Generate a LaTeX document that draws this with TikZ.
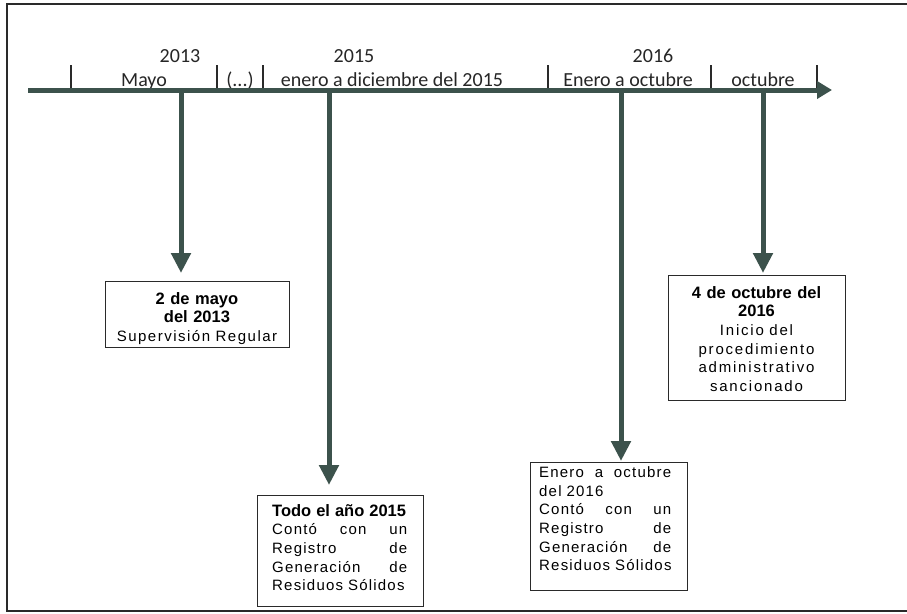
\documentclass[tikz,border=0pt]{standalone}
\usepackage{fontspec}
\setmainfont{Liberation Sans}
\newfontfamily\tlfont{Carlito}
\newfontfamily\bxreg[LetterSpace=8]{Liberation Sans}
\newfontfamily\bxone[LetterSpace=10]{Liberation Sans}
\newfontfamily\bxfour[LetterSpace=12]{Liberation Sans}
\usetikzlibrary{arrows.meta}
\definecolor{tlc}{HTML}{3C524C}
\definecolor{framec}{HTML}{2A2A2A}
\newcommand\jl[1]{\leavevmode\hbox to\hsize{#1}}
\tikzset{
  tline/.style={draw=tlc, line width=5pt, -{Triangle[width=17pt,length=15pt]}},
  tick/.style={draw=framec, line width=1.3pt},
  varrow/.style={draw=tlc, line width=5pt, -{Triangle[width=19pt,length=20pt]}},
  evbox/.style={draw=framec, line width=1.4pt, fill=white, inner sep=0pt},
  tllabel/.style={inner sep=0pt, anchor=base, font=\tlfont\fontsize{20}{22}\selectfont, text=black!85},
  boxtext/.style={inner sep=0pt, text=black},
}
\begin{document}
\begin{tikzpicture}[x=1pt,y=-1pt]
\useasboundingbox (0,0) rectangle (907,613);
\fill[white] (0,0) rectangle (907,613);
\draw[framec, line width=1.6pt] (7,4) rectangle (925,611);

% timeline labels
\node[tllabel] (y2013) at (180,62) {2013};
\node[tllabel] (y2015) at (354,62) {2015};
\node[tllabel] (y2016) at (653,62) {2016};
\node[tllabel] (mmayo) at (144,86) {Mayo};
\node[tllabel] (mdots) at (240,86) {(...)};
\node[tllabel] (m2015) at (392,86) {enero a diciembre del 2015};
\node[tllabel] (m2016) at (628,86) {Enero a octubre};
\node[tllabel] (moct) at (763,86) {octubre};

% ticks
\foreach \x in {71,217,263,548,711,817} \draw[tick] (\x,65) -- (\x,88);

% boxes
\node[evbox, minimum width=184pt, minimum height=66pt, anchor=north west] (b1) at (105,281) {};
\node[evbox, minimum width=166pt, minimum height=111pt, anchor=north west] (b2) at (257,495) {};
\node[evbox, minimum width=157pt, minimum height=128pt, anchor=north west] (b3) at (530,462) {};
\node[evbox, minimum width=177pt, minimum height=125pt, anchor=north west] (b4) at (668,275) {};

% arrow roots on the timeline
\coordinate (a1) at (181,90);
\coordinate (a2) at (329,90);
\coordinate (a3) at (621,90);
\coordinate (a4) at (763,90);
\draw[varrow, shorten >=8pt] (a1) -- (a1 |- b1.north);
\draw[varrow, shorten >=10pt] (a2) -- (a2 |- b2.north);
\draw[varrow, shorten >=1pt] (a3) -- (a3 |- b3.north);
\draw[varrow, shorten >=2pt] (a4) -- (a4 |- b4.north);

% timeline
\coordinate (tl0) at (28,90);
\coordinate (tl1) at (832,90);
\draw[tline] (tl0) -- (tl1);

% box texts
\node[boxtext, anchor=north, text width=178pt, align=center,
  font=\normalfont\bfseries\fontsize{16.5}{18.6}\selectfont] (t1) at (197,291)
  {\rule{0pt}{13pt}2 de mayo\\ del 2013\\
   {\bxone\mdseries\fontsize{15}{18.6}\selectfont Supervisión Regular}};

\node[boxtext, anchor=north west, text width=135pt, align=left,
  font=\bxreg\fontsize{15}{18.6}\selectfont] (t2) at (272,503)
  {{\normalfont\bfseries\fontsize{16.5}{18.6}\selectfont\rule{0pt}{13pt}Todo el año 2015}\\
   \jl{Contó\hfill con\hfill un}\\
   \jl{Registro\hfill de}\\
   \jl{Generación\hfill de}\\
   Residuos Sólidos};

\node[boxtext, anchor=north west, text width=132pt, align=left,
  font=\bxreg\fontsize{15}{18.6}\selectfont] (t3) at (539,464.5)
  {\rule{0pt}{13pt}\jl{Enero\hfill a\hfill octubre}\\
   del 2016\\
   \jl{Contó\hfill con\hfill un}\\
   \jl{Registro\hfill de}\\
   \jl{Generación\hfill de}\\
   Residuos Sólidos};

\node[boxtext, anchor=north, text width=168pt, align=center,
  font=\normalfont\bfseries\fontsize{16.5}{18.6}\selectfont] (t4) at (756.5,285)
  {\rule{0pt}{13pt}4 de octubre del\\ 2016\\
   {\bxfour\mdseries\fontsize{15}{18.6}\selectfont Inicio del\\ procedimiento\\ administrativo\\ sancionado}};
\end{tikzpicture}
\end{document}
